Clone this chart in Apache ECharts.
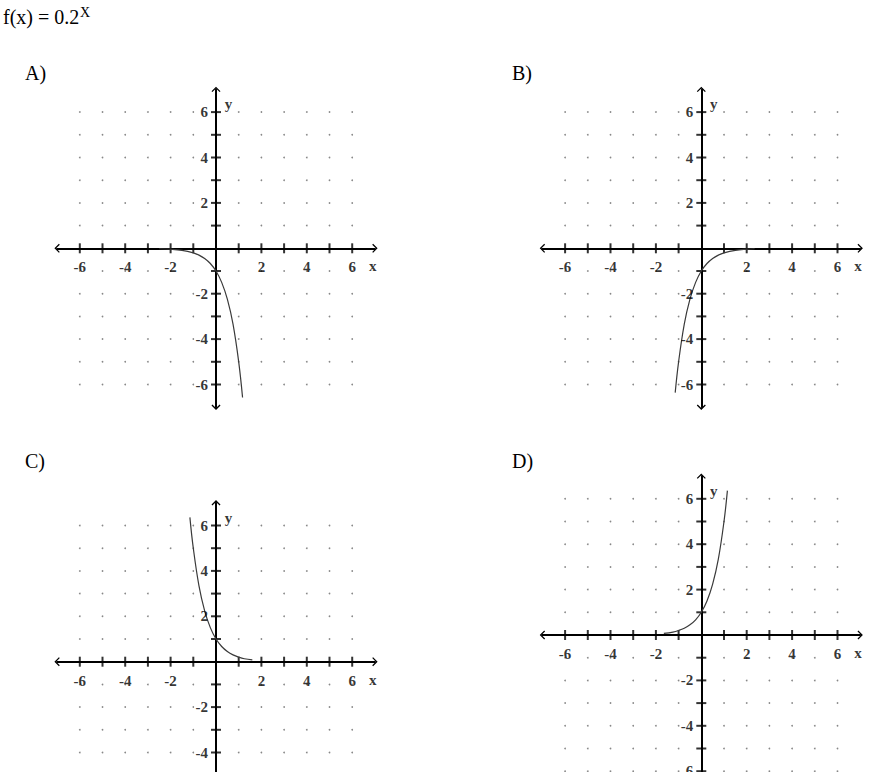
<!DOCTYPE html>
<html>
<head>
<meta charset="utf-8">
<script src="https://cdn.jsdelivr.net/npm/echarts@6/dist/echarts.min.js"></script>
<style>
  html, body { margin: 0; padding: 0; background: #fff; }
  #chart { width: 872px; height: 772px; }
</style>
</head>
<body>
<div id="chart"></div>
<script>
// ---- data ----
const panelNames = ['A)', 'B)', 'C)', 'D)'];
const gridValues = [-6, -5, -4, -3, -2, -1, 1, 2, 3, 4, 5, 6];
const tickValues = [-6, -5, -4, -3, -2, -1, 1, 2, 3, 4, 5, 6];
const labelValues = [-6, -4, -2, 2, 4, 6];

const curveA = [[-2.5,-0.02],[-2,-0.04],[-1.5,-0.09],[-1,-0.2],[-0.75,-0.3],[-0.5,-0.45],[-0.25,-0.67],[0,-1],[0.25,-1.5],[0.5,-2.24],[0.75,-3.34],[1,-5],[1.17,-6.57]];
const curveB = [[-1.15,-6.36],[-1,-5],[-0.75,-3.34],[-0.5,-2.24],[-0.25,-1.5],[0,-1],[0.25,-0.67],[0.5,-0.45],[0.75,-0.3],[1,-0.2],[1.5,-0.09],[2,-0.04],[2.35,-0.02]];
const curveC = [[-1.15,6.36],[-1,5],[-0.75,3.34],[-0.5,2.24],[-0.25,1.5],[0,1],[0.25,0.67],[0.5,0.45],[0.75,0.3],[1,0.2],[1.25,0.13],[1.6,0.08]];
const curveD = [[-1.65,0.07],[-1.25,0.13],[-1,0.2],[-0.75,0.3],[-0.5,0.45],[-0.25,0.67],[0,1],[0.25,1.5],[0.5,2.24],[0.75,3.34],[1,5],[1.15,6.36]];
const curves = [curveA, curveB, curveC, curveD];

// ---- layout ----
const UNIT = 22.7;
const RANGE = 7;
const SIZE = UNIT * RANGE * 2;
const origins = [[216, 248.3], [701.3, 248.3], [216, 661.7], [701.3, 635]];
const letterPos = [[25, 63], [512, 63], [25, 451], [512, 451]];

const serif = '"Liberation Serif", "DejaVu Serif", serif';
const arrowPath = 'path://M5,0 L10,5 L9,6 L5,2 L1,6 L0,5 Z';
const labelFont = { color: '#000', fontFamily: serif, fontSize: 15, fontWeight: 'bold' };

const dots = [];
gridValues.forEach(x => gridValues.forEach(y => dots.push([x, y])));
const xTicks = tickValues.map(v => [v, 0]);
const yTicks = tickValues.map(v => [0, v]);
const xLabels = labelValues.map(v => ({ value: [v, 0], name: String(v) }));
const yLabels = labelValues.map(v => ({ value: [0, v], name: String(v) }));

const grids = [], xAxes = [], yAxes = [], series = [];
origins.forEach((o, i) => {
  grids.push({ left: o[0] - UNIT * RANGE, top: o[1] - UNIT * RANGE, width: SIZE, height: SIZE,
    containLabel: false, outerBoundsMode: 'none' });
  const axisCommon = {
    type: 'value', gridIndex: i, min: -RANGE, max: RANGE,
    splitLine: { show: false },
    axisTick: { show: false },
    axisLabel: { show: false },
    axisLine: { show: true, onZero: true, symbol: [arrowPath, arrowPath], symbolSize: [9, 6],
      lineStyle: { color: '#000', width: 2 } },
  };
  xAxes.push(Object.assign({}, axisCommon));
  yAxes.push(Object.assign({}, axisCommon));
  series.push({
    type: 'scatter', xAxisIndex: i, yAxisIndex: i, data: dots, symbol: 'circle', symbolSize: 1.7,
    itemStyle: { color: '#6a6a6a' }, silent: true, z: 1
  });
  series.push({
    type: 'scatter', xAxisIndex: i, yAxisIndex: i, data: xTicks, symbol: 'rect', symbolSize: [2, 10],
    itemStyle: { color: '#000' }, silent: true, z: 3
  });
  series.push({
    type: 'scatter', xAxisIndex: i, yAxisIndex: i, data: yTicks, symbol: 'rect', symbolSize: [10, 2],
    itemStyle: { color: '#000' }, silent: true, z: 3
  });
  series.push({
    type: 'line', xAxisIndex: i, yAxisIndex: i, data: curves[i], smooth: 0.4,
    showSymbol: false, lineStyle: { color: '#3a3a3a', width: 1.2 }, silent: true, z: 4
  });
  series.push({
    type: 'scatter', xAxisIndex: i, yAxisIndex: i, data: xLabels, symbolSize: 0, silent: true, z: 5,
    label: Object.assign({ show: true, position: 'inside', offset: [0, 19], formatter: '{b}' }, labelFont)
  });
  series.push({
    type: 'scatter', xAxisIndex: i, yAxisIndex: i, data: yLabels, symbolSize: 0, silent: true, z: 5,
    label: Object.assign({ show: true, position: 'left', distance: 8, formatter: '{b}' }, labelFont)
  });
  series.push({
    type: 'scatter', xAxisIndex: i, yAxisIndex: i, symbolSize: 0, silent: true, z: 5,
    data: [
      { value: [6.9, 0], label: { formatter: 'x', offset: [0, 18] } },
      { value: [0.55, 6.35], label: { formatter: 'y', offset: [0, 0] } }
    ],
    label: Object.assign({ show: true, position: 'inside' }, labelFont)
  });
});

const graphics = [
  { type: 'text', left: 3, top: 7, style: { text: 'f(x) = 0.2', font: '20px ' + serif, fill: '#000' } },
  { type: 'text', left: 80, top: 5, style: { text: 'X', font: '14px ' + serif, fill: '#000' } }
];
panelNames.forEach((n, i) => {
  graphics.push({ type: 'text', left: letterPos[i][0], top: letterPos[i][1], style: { text: n, font: '20px ' + serif, fill: '#000' } });
});

const chart = echarts.init(document.getElementById('chart'), null, { renderer: 'svg' });
chart.setOption({
  animation: false,
  backgroundColor: '#fff',
  grid: grids,
  xAxis: xAxes,
  yAxis: yAxes,
  series: series,
  graphic: graphics
});
</script>
</body>
</html>
